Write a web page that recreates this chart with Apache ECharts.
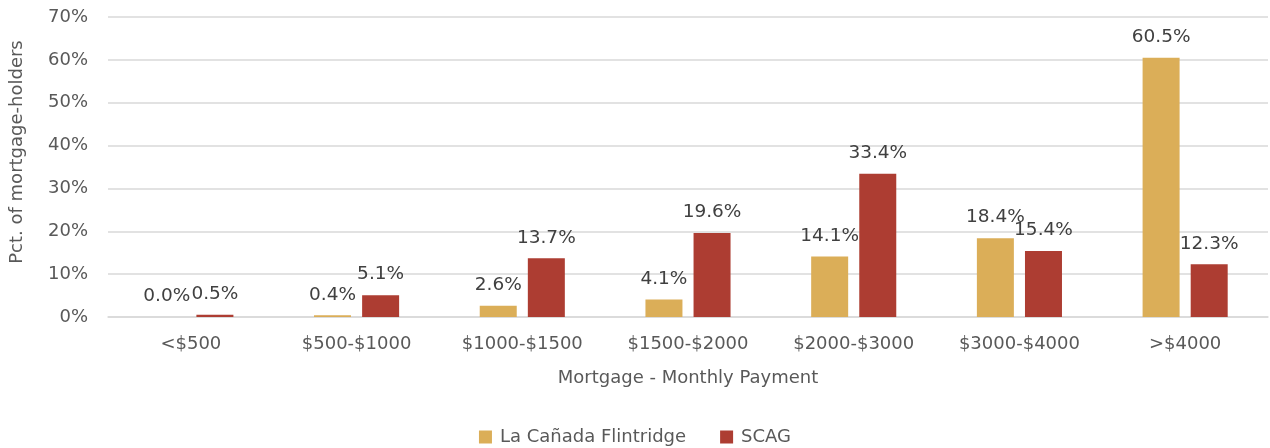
<!DOCTYPE html>
<html>
<head>
<meta charset="utf-8">
<script src="https://cdn.jsdelivr.net/npm/echarts@6/dist/echarts.min.js"></script>
<style>
  html, body { margin: 0; padding: 0; background: #fff; }
  #chart { width: 1270px; height: 448px; }
</style>
</head>
<body>
<div id="chart"></div>
<script>
const categories = ['<$500', '$500-$1000', '$1000-$1500', '$1500-$2000', '$2000-$3000', '$3000-$4000', '>$4000'];
const laCanada = [0.0, 0.4, 2.6, 4.1, 14.1, 18.4, 60.5];
const scag = [0.5, 5.1, 13.7, 19.6, 33.4, 15.4, 12.3];

const fontFam = '"DejaVu Sans", sans-serif';
const textColor = '#595959';

const chart = echarts.init(document.getElementById('chart'));

const label = {
  show: true,
  position: 'top',
  distance: 11,
  fontSize: 18.5,
  fontFamily: fontFam,
  color: '#404040',
  formatter: p => p.value.toFixed(1) + '%'
};

chart.setOption({
  animation: false,
  textStyle: { fontFamily: fontFam },
  grid: { left: 108, right: 2, top: 17, bottom: 131 },
  legend: {
    top: 423,
    left: 'center',
    itemWidth: 13,
    itemHeight: 13,
    itemGap: 34,
    icon: 'rect',
    textStyle: { fontSize: 18, color: textColor, fontFamily: fontFam, padding: [0, 0, 0, 3] },
    data: ['La Cañada Flintridge', 'SCAG']
  },
  xAxis: {
    type: 'category',
    data: categories,
    name: 'Mortgage - Monthly Payment',
    nameLocation: 'middle',
    nameGap: 52,
    nameTextStyle: { fontSize: 18, color: textColor },
    axisTick: { show: false },
    axisLine: { lineStyle: { color: '#d9d9d9', width: 1.5 } },
    axisLabel: { fontSize: 18, color: textColor, margin: 18, interval: 0 }
  },
  yAxis: {
    type: 'value',
    min: 0,
    max: 70,
    interval: 10,
    name: 'Pct. of mortgage-holders',
    nameLocation: 'middle',
    nameGap: 82,
    nameTextStyle: { fontSize: 18, color: textColor, padding: [0, 0, 0, 30] },
    axisLabel: { fontSize: 18, color: textColor, formatter: '{value}%', margin: 20 },
    splitLine: { lineStyle: { color: '#d9d9d9', width: 1.5 } }
  },
  series: [
    {
      name: 'La Cañada Flintridge',
      type: 'bar',
      data: laCanada,
      barWidth: 37,
      barGap: '30%',
      itemStyle: { color: '#DBAE58' },
      label: label
    },
    {
      name: 'SCAG',
      type: 'bar',
      data: scag,
      barWidth: 37,
      itemStyle: { color: '#AD3D32' },
      label: label
    }
  ]
});
</script>
</body>
</html>
